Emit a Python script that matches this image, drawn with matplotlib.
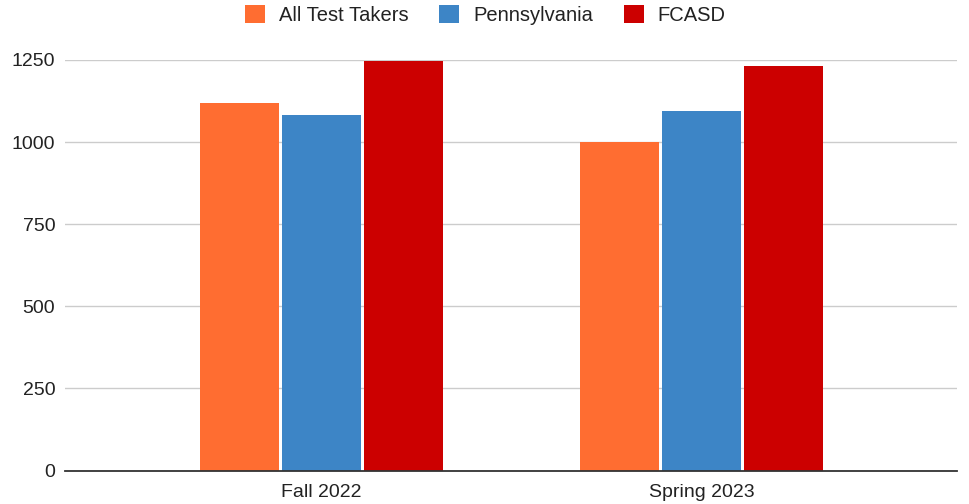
import matplotlib
matplotlib.use("Agg")
import matplotlib.pyplot as plt
import numpy as np

categories = ["Fall 2022", "Spring 2023"]
series_names = ["All Test Takers", "Pennsylvania", "FCASD"]
all_test_takers = [1120, 1000]
pennsylvania = [1083, 1094]
fcasd = [1248, 1233]
colors = ["#FF6D31", "#3D85C6", "#CC0000"]
yticks = [0, 250, 500, 750, 1000, 1250]

plt.rcParams['font.family'] = ['Liberation Sans', 'DejaVu Sans']

fig = plt.figure(figsize=(9.69, 5.04), dpi=100)
W, H = 969, 504
ax = fig.add_axes([65 / W, 1 - 470.5 / H, (957 - 65) / W, (470.5 - 60) / H])

x = np.arange(len(categories))
width = 79 / 380
step = 82 / 380
values = [all_test_takers, pennsylvania, fcasd]
for i, (name, vals, c) in enumerate(zip(series_names, values, colors)):
    ax.bar(x + (i - 1) * step, vals, width=width, color=c, label=name, zorder=3)

ax.set_ylim(0, 1250)
ax.set_xlim((65 - 321.5) / 380, 1 + (957 - 701.5) / 380)
ax.set_yticks(yticks)
ax.set_yticklabels([str(v) for v in yticks])
ax.set_xticks(x)
ax.set_xticklabels(categories)
ax.yaxis.grid(True, color="#cccccc", linewidth=1, zorder=0)
for s in ["top", "right", "left"]:
    ax.spines[s].set_visible(False)
ax.spines["bottom"].set_color("#333333")
ax.spines["bottom"].set_linewidth(1.3)
ax.spines["bottom"].set_zorder(4)
ax.tick_params(axis="both", length=0, labelsize=14, colors="#222222")
ax.tick_params(axis="y", pad=7)
ax.tick_params(axis="x", pad=10)

fig.legend(loc="center", bbox_to_anchor=(485.5 / W, 1 - 15 / H), ncol=3,
           frameon=False, fontsize=14.5, handlelength=1.0, handleheight=1.0,
           handletextpad=0.7, columnspacing=1.5, labelcolor="#222222")

fig.savefig("out.png", dpi=100)
